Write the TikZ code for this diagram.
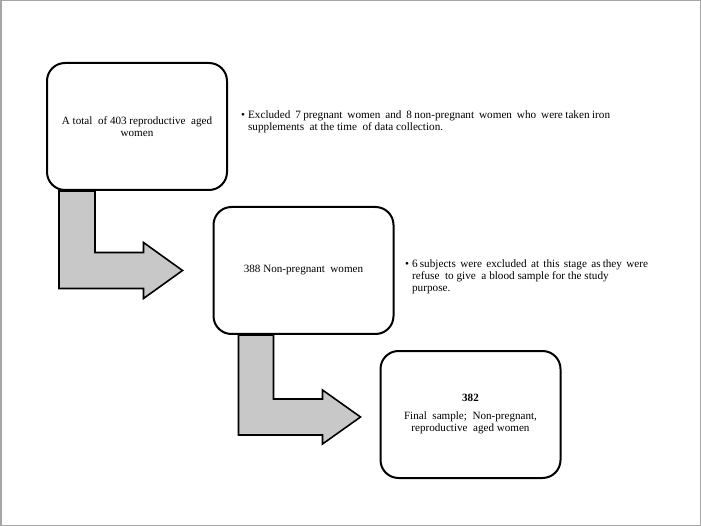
\documentclass[tikz,border=0pt]{standalone}
\usepackage{fontspec}
\setmainfont{Liberation Serif}
\usetikzlibrary{calc,backgrounds}
\begin{document}
\begin{tikzpicture}[x=1pt,y=-1pt,
  box/.style={draw=black, line width=2pt, rounded corners=18pt, fill=white,
    minimum width=180pt, minimum height=127pt, align=center, inner sep=2pt,
    font=\fontsize{11.1}{12.5}\selectfont},
  blockarrow/.style={draw=black, line width=1.6pt, fill=arrowgray, line join=miter},
  note/.style={anchor=west, inner sep=0pt, font=\fontsize{11.2}{12.3}\selectfont}]
\definecolor{arrowgray}{HTML}{C8C8C8}
\useasboundingbox (0,0) rectangle (701,526);
\draw[gray!70, line width=1.5pt] (0.75,0.75) rectangle (700.25,525.25);

\node[box] (b1) at (137,126.5) {A total\ \ of 403 reproductive\ \ aged\\women};
\node[box] (b2) at (303.5,270.5) {388 Non-pregnant\ \ women};
\node[box] (b3) at (470.5,414.5) {\textbf{382}\\[5pt]Final\ \ sample;\ \ Non-pregnant,\\reproductive\ \ aged women};

\node[note] (n1) at (241,122) {\begin{tabular}{@{}l@{\hspace{3pt}}l@{}}
\textbullet & \makebox[362pt][s]{Excluded\ \ 7 pregnant\ \ women\ \ and\ \ 8 non-pregnant\ \ women\ \ who\ \ were taken iron}\\
 & supplements\ \ at the time\ \ of data collection.
\end{tabular}};
\node[note] (n2) at (405,277) {\begin{tabular}{@{}l@{\hspace{3pt}}l@{}}
\textbullet & \makebox[236pt][s]{6 subjects\ \ were\ \ excluded\ \ at\ \ this\ \ stage\ \ as they\ \ were}\\
 & refuse\ \ to give\ \ a blood sample for the study\\
 & purpose.
\end{tabular}};

\begin{scope}[on background layer]
\draw[blockarrow] ($(b1.south west)+(13,0)$) coordinate (a1s)
  -- ($(b1.south west)+(49,0)$)
  |- ($(b2.west)+(-69,-18)$)
  -- ($(b2.west)+(-69,-28)$)
  -- ($(b2.west)+(-30,0)$)
  -- ($(b2.west)+(-69,28)$)
  -- ($(b2.west)+(-69,18)$)
  -| (a1s) -- cycle;
\draw[blockarrow] ($(b2.south west)+(26,0)$) coordinate (a2s)
  -- ($(b2.south west)+(61,0)$)
  |- ($(b3.west)+(-57,-15.5)$)
  -- ($(b3.west)+(-57,-24.5)$)
  -- ($(b3.west)+(-19,2.5)$)
  -- ($(b3.west)+(-57,29.5)$)
  -- ($(b3.west)+(-57,20.5)$)
  -| (a2s) -- cycle;
\end{scope}
\end{tikzpicture}
\end{document}
